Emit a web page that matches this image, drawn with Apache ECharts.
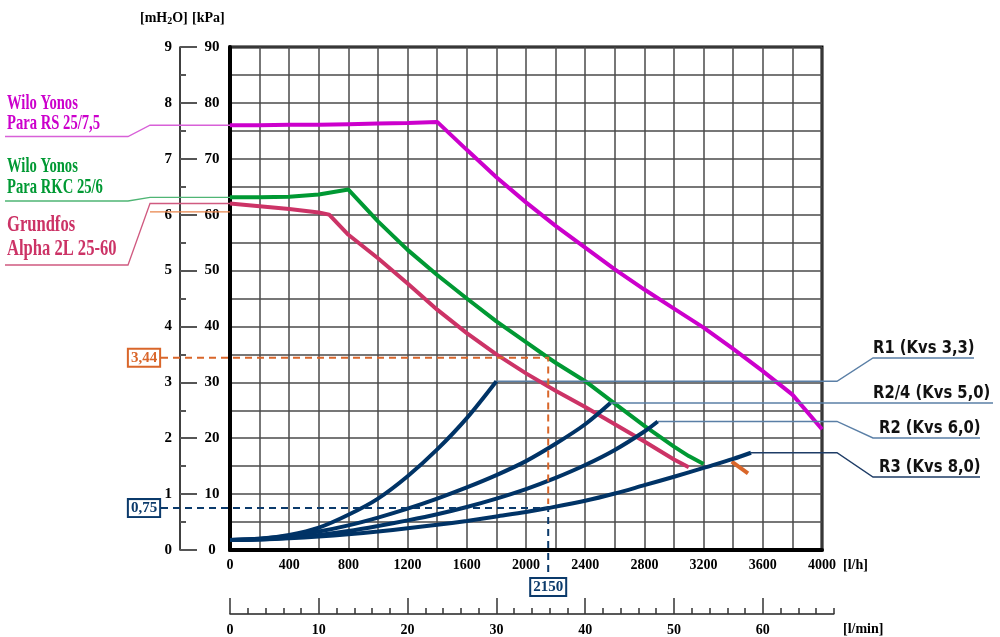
<!DOCTYPE html>
<html><head><meta charset="utf-8">
<script src="https://cdn.jsdelivr.net/npm/echarts@6/dist/echarts.min.js"></script>
<style>html,body{margin:0;padding:0;background:#fff}#c{width:1000px;height:637px}</style>
</head><body><div id="c"></div>
<script>
// ---------- data ----------
const flowMaxLh = 4000;
const headMaxKPa = 90;
const headMaxMH2O = 9;
const lminMax = 68;
const lminLabelMax = 60;

const magentaFlow = [0,200,400,600,800,1000,1200,1400,1600,1800,2000,2200,2400,2600,2800,3000,3200,3400,3600,3800,4000];
const magentaKPa  = [76.0,76.0,76.1,76.1,76.2,76.3,76.4,76.6,71.6,66.7,62.2,58.0,54.1,50.2,46.6,43.2,39.8,36.0,32.0,27.8,21.6];

const greenFlow = [0,200,400,600,800,1000,1200,1400,1600,1800,2000,2150,2200,2400,2600,2800,3000,3100,3200];
const greenKPa  = [63.1,63.1,63.2,63.6,64.5,58.8,53.7,49.2,45.0,40.9,37.2,34.4,33.5,30.2,26.2,22.2,18.5,16.8,15.4];

const pinkFlow = [0,200,400,600,670,800,1000,1200,1400,1600,1800,2000,2200,2400,2600,2800,3000,3100];
const pinkKPa  = [62.0,61.5,61.0,60.4,60.0,56.4,52.2,47.7,43.0,38.8,35.0,31.6,28.5,25.6,22.5,19.4,16.2,14.8];

const orangeFlow = [3390,3500];
const orangeKPa  = [15.8,13.7];

const r1Flow = [0,200,400,600,800,1000,1200,1400,1600,1800];
const r1KPa  = [1.8,2.0,2.7,4.0,6.3,9.2,13.2,18.0,23.6,30.2];

const r24Flow = [0,200,400,600,800,1000,1200,1400,1600,1800,2000,2200,2400,2570];
const r24KPa  = [1.8,2.0,2.5,3.3,4.4,5.8,7.4,9.2,11.2,13.4,15.9,19.0,22.5,26.3];

const r2Flow = [0,200,400,600,800,1000,1200,1400,1600,1800,2000,2200,2400,2600,2800,2890];
const r2KPa  = [1.8,1.9,2.2,2.7,3.4,4.3,5.3,6.4,7.7,9.2,10.9,12.9,15.2,17.9,21.2,23.0];

const r3Flow = [0,200,400,600,800,1000,1200,1400,1600,1800,2000,2150,2400,2600,2800,3000,3200,3400,3520];
const r3KPa  = [1.8,1.9,2.1,2.4,2.8,3.3,3.9,4.5,5.2,6.0,6.8,7.5,8.8,10.1,11.6,13.1,14.7,16.3,17.4];

const pumpNames = [['Wilo Yonos','Para RS 25/7,5'],['Wilo Yonos','Para RKC 25/6'],['Grundfos','Alpha 2L 25-60']];
const valveNames = ['R1 (Kvs 3,3)','R2/4 (Kvs 5,0)','R2 (Kvs 6,0)','R3 (Kvs 8,0)'];

const markFlow = 2150;
const markHighKPa = 34.4;
const markLowKPa = 7.5;
const markLabels = ['3,44','0,75','2150'];
const orangeRefKPa = 60.5;

// ---------- styling ----------
const C_MAG = '#cc00cc', C_GRN = '#009933', C_PNK = '#cc3366', C_NAV = '#003366', C_ORG = '#d9662a';
const NUMFONT = 'Liberation Serif';
const zip = (a,b) => a.map((v,i)=>[v,b[i]]);

const chart = echarts.init(document.getElementById('c'), null, {renderer:'canvas'});

function lineSeries(name, x, y, color, z){
  return {name, type:'line', xAxisIndex:0, yAxisIndex:0, data: zip(x,y), symbol:'none', showSymbol:false,
    smooth:false, lineStyle:{color, width:4}, z: z||3, animation:false, silent:true};
}
function navySeries(name, x, y){
  const s = lineSeries(name, x, y, C_NAV, 5);
  s.smooth = 0.3;
  return s;
}

const option = {
  animation:false,
  backgroundColor:'#fff',
  grid:[
    {left:230, top:47, width:592, height:503, show:true, borderColor:'#000', borderWidth:3, backgroundColor:'transparent'},
    {left:230, top:613, width:603.84, height:1},
    {left:230, top:613, width:532.8, height:1}
  ],
  xAxis:[
    {type:'value', gridIndex:0, min:0, max:flowMaxLh, interval:200,
      axisLine:{show:true, onZero:false, lineStyle:{color:'#000', width:4}},
      axisTick:{show:false},
      axisLabel:{margin:8, color:'#000', fontFamily:NUMFONT, fontWeight:'bold', fontSize:14,
        formatter:v => (v % 400 === 0 ? String(v) : '')},
      splitLine:{show:true, lineStyle:{color:'#4a4a4a', width:1.5}}},
    {type:'value', gridIndex:1, min:0, max:lminMax, interval:2,
      axisLine:{show:true, onZero:false, lineStyle:{color:'#222', width:1.5}},
      axisTick:{show:true, inside:true, length:6, lineStyle:{color:'#333', width:1.5}},
      axisLabel:{show:false}, splitLine:{show:false}},
    {type:'value', gridIndex:2, min:0, max:lminLabelMax, interval:10,
      axisLine:{show:false},
      axisTick:{show:true, inside:true, length:16, lineStyle:{color:'#333', width:1.5}},
      axisLabel:{margin:9, color:'#000', fontFamily:NUMFONT, fontWeight:'bold', fontSize:14},
      splitLine:{show:false}}
  ],
  yAxis:[
    {type:'value', gridIndex:0, min:0, max:headMaxKPa, interval:5,
      axisLine:{show:true, onZero:false, lineStyle:{color:'#000', width:4}},
      axisTick:{show:false}, axisLabel:{show:false},
      splitLine:{show:true, lineStyle:{color:'#4a4a4a', width:1.5}}},
    {type:'value', gridIndex:0, position:'left', offset:50, min:0, max:headMaxKPa, interval:10,
      axisLine:{show:true, onZero:false, lineStyle:{color:'#000', width:1.5}},
      axisTick:{show:true, inside:true, length:17, lineStyle:{color:'#555', width:2}},
      minorTick:{show:true, splitNumber:2, length:6, lineStyle:{color:'#555', width:2}},
      axisLabel:{inside:true, margin:32, align:'center', color:'#000', fontFamily:NUMFONT, fontWeight:'bold', fontSize:15},
      splitLine:{show:false}},
    {type:'value', gridIndex:0, position:'left', offset:50, min:0, max:headMaxMH2O, interval:1,
      axisLine:{show:false}, axisTick:{show:false},
      axisLabel:{margin:8, color:'#000', fontFamily:NUMFONT, fontWeight:'bold', fontSize:15},
      splitLine:{show:false}},
    {type:'value', gridIndex:1, show:false},
    {type:'value', gridIndex:2, show:false}
  ],
  series:[
    lineSeries(pumpNames[0].join(' '), magentaFlow, magentaKPa, C_MAG),
    lineSeries(pumpNames[1].join(' '), greenFlow, greenKPa, C_GRN),
    lineSeries(pumpNames[2].join(' '), pinkFlow, pinkKPa, C_PNK, 4),
    lineSeries('orange', orangeFlow, orangeKPa, C_ORG),
    navySeries(valveNames[0], r1Flow, r1KPa),
    navySeries(valveNames[1], r24Flow, r24KPa),
    navySeries(valveNames[2], r2Flow, r2KPa),
    navySeries(valveNames[3], r3Flow, r3KPa)
  ]
};
chart.setOption(option);

// ---------- annotations anchored through the axes ----------
const P = (q,k) => chart.convertToPixel({xAxisIndex:0, yAxisIndex:0}, [q,k]);
const last = a => a[a.length-1];
const g = [];
function poly(points, color, width, dash, z){
  g.push({type:'polyline', shape:{points}, style:{stroke:color, lineWidth:width, fill:null, lineDash:dash||null}, z:z||10, silent:true});
}
function txt(x, y, text, opts){
  g.push(Object.assign({type:'text', x, y, style:Object.assign({text}, opts.style)}, opts.el||{}));
}

// header
txt(140, 18, '{a|[mH}{s|2}{a|O]}', {style:{rich:{
  a:{fontFamily:NUMFONT, fontWeight:'bold', fontSize:14, fill:'#000'},
  s:{fontFamily:NUMFONT, fontWeight:'bold', fontSize:10, fill:'#000', padding:[6,0,0,0]}},
  verticalAlign:'middle'}});
txt(192, 18, '[kPa]', {style:{fontFamily:NUMFONT, fontWeight:'bold', fontSize:14, fill:'#000', verticalAlign:'middle'}});
// axis unit labels
txt(843, 565, '[l/h]', {style:{fontFamily:NUMFONT, fontWeight:'bold', fontSize:14, fill:'#000', verticalAlign:'middle'}});
txt(843, 629, '[l/min]', {style:{fontFamily:NUMFONT, fontWeight:'bold', fontSize:14, fill:'#000', verticalAlign:'middle'}});

// left pump labels and leaders
const x0 = P(0,0)[0];
const pumpStarts = [magentaKPa[0], greenKPa[0], pinkKPa[0]];
const pumpColors = [C_MAG, C_GRN, C_PNK];
const leaderColors = ['#d860d8', '#4fb574', '#d05a80'];
const underlineY = [136.5, 201, 265];
const textY = [[114,134],[177,198],[237,261]];
const textSize = [22, 22, 24];
const textScale = [0.665, 0.665, 0.69];
for (let i=0;i<3;i++){
  const ys = P(0, pumpStarts[i])[1];
  poly([[5,underlineY[i]],[128,underlineY[i]],[150,ys],[x0,ys]], leaderColors[i], 1.3);
  for (let j=0;j<2;j++){
    txt(7, textY[i][j], pumpNames[i][j], {style:{fontFamily:'Liberation Serif', fontWeight:'bold', fontSize:textSize[i], fill:pumpColors[i], verticalAlign:'bottom'},
      el:{scaleX:textScale[i]}});
  }
}
const yOrgRef = P(0, orangeRefKPa)[1];
poly([[150,yOrgRef],[x0,yOrgRef]], '#e8844a', 1.3);

// right valve labels and leaders
const valveEnds = [[last(r1Flow), last(r1KPa)], [last(r24Flow), last(r24KPa)], [last(r2Flow), last(r2KPa)], [last(r3Flow), last(r3KPa)]];
const valveUnderY = [358, null, 438, 477];
const valveUnderEnd = [974, 993, 980, 980];
const valveTextX = [873, 873, 879, 879];
const valveLeaderColor = ['#5a7fa6','#5a7fa6','#5a7fa6','#1e3c66'];
for (let i=0;i<4;i++){
  const e = P(valveEnds[i][0], valveEnds[i][1]);
  const uy = valveUnderY[i] === null ? e[1] : valveUnderY[i];
  poly([[e[0],e[1]],[837,e[1]],[873,uy],[valveUnderEnd[i],uy]], valveLeaderColor[i], 1.4, null, 4);
  txt(valveTextX[i], uy-1, valveNames[i], {style:{fontFamily:'DejaVu Sans', fontWeight:'bold', fontSize:17, fill:'#111', verticalAlign:'bottom'},
    el:{scaleX:0.87}});
}

// dashed reading lines
const pHigh = P(markFlow, markHighKPa), pLow = P(markFlow, markLowKPa), pAxis = P(markFlow, 0);
poly([[161, pHigh[1]],[pHigh[0], pHigh[1]],[pLow[0], pLow[1]-4]], C_ORG, 2, [7,5], 12);
poly([[161, pLow[1]],[pLow[0], pLow[1]],[pAxis[0], 577]], '#0b3a6b', 2, [7,5], 12);
function box(cx, cy, text, color){
  txt(cx, cy, text, {style:{fontFamily:NUMFONT, fontWeight:'bold', fontSize:15, fill:color, align:'center', verticalAlign:'middle',
    backgroundColor:'#fff', borderColor:color, borderWidth:2, padding:[1,2,0,2]}, el:{z:13}});
}
box(144, pHigh[1], markLabels[0], C_ORG);
box(144, pLow[1], markLabels[1], '#0b3a6b');
box(pAxis[0], 587, markLabels[2], '#0b3a6b');

chart.setOption({graphic:g});
</script></body></html>
